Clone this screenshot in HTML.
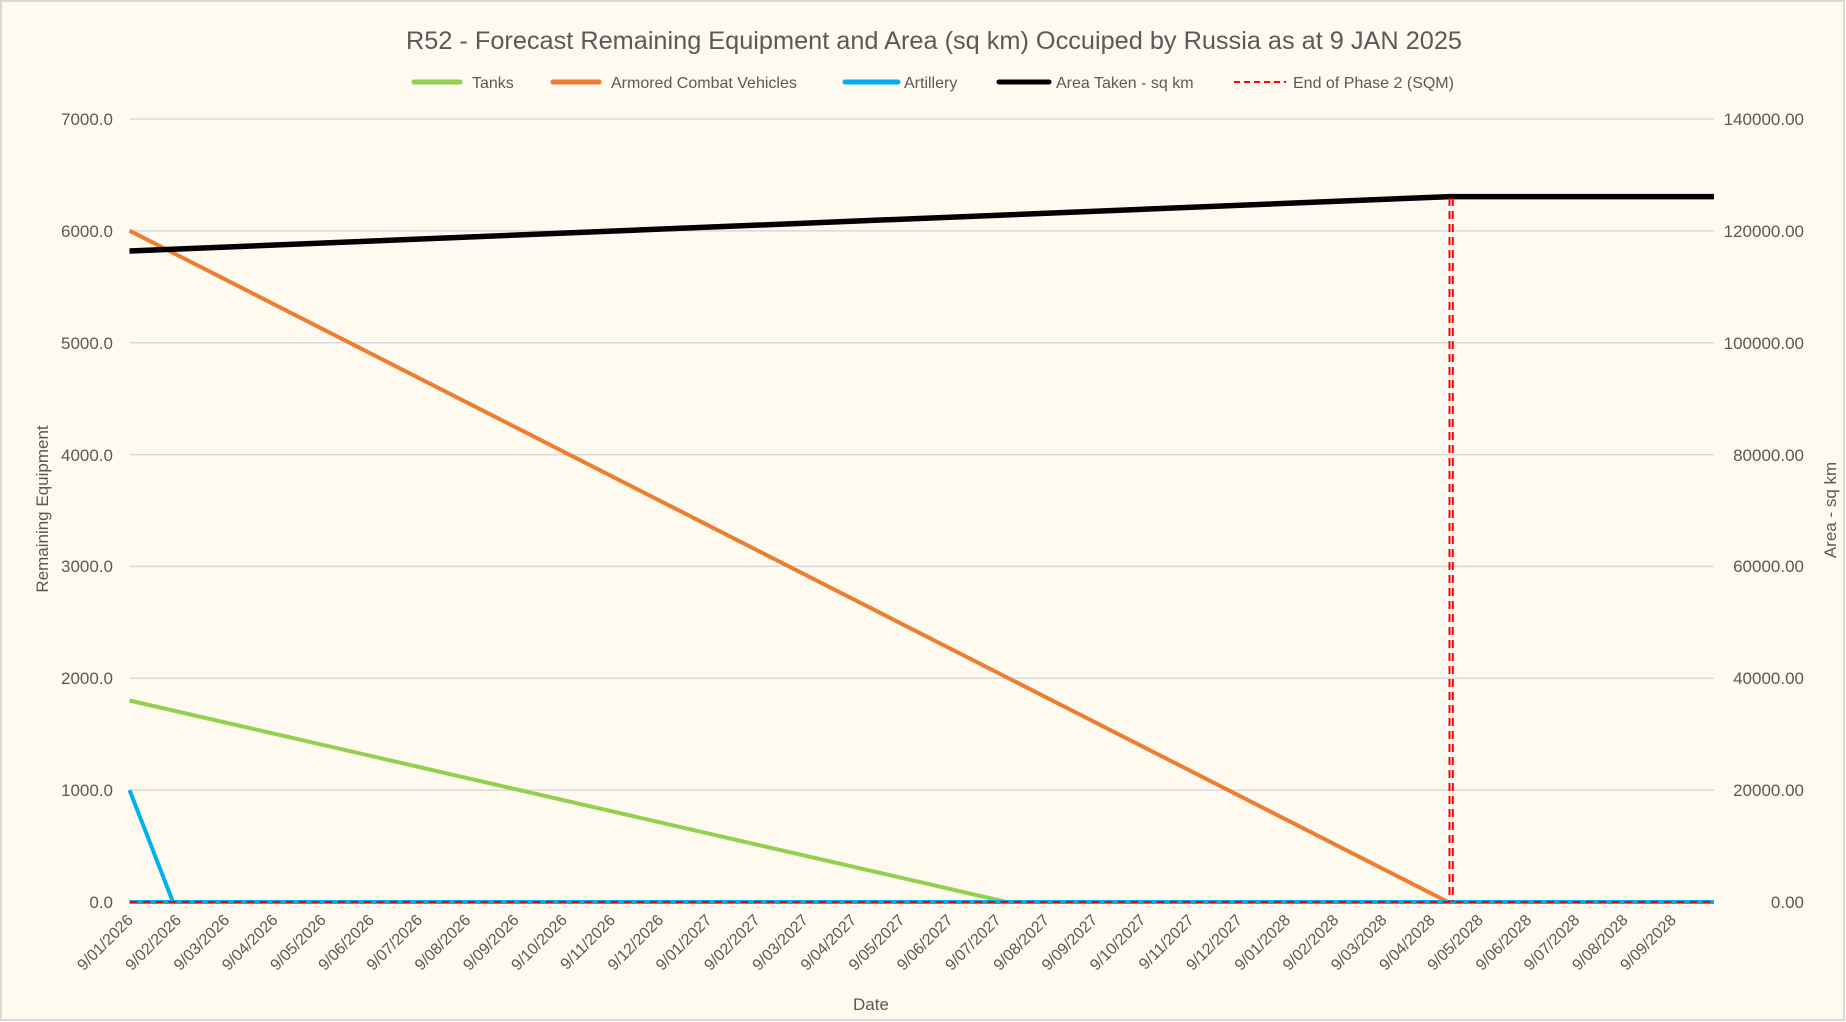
<!DOCTYPE html>
<html><head><meta charset="utf-8"><style>
html,body{margin:0;padding:0;background:#fff}
svg{display:block}
text{font-family:"Liberation Sans",sans-serif;fill:#595959}
</style></head><body>
<svg width="1846" height="1022" viewBox="0 0 1846 1022" xmlns="http://www.w3.org/2000/svg">
<rect x="1" y="1" width="1843" height="1019" fill="#FEFAF0" stroke="#D9D9D9" stroke-width="2"/>
<text x="934" y="49" font-size="25" text-anchor="middle" textLength="1056" lengthAdjust="spacingAndGlyphs">R52 - Forecast Remaining Equipment and Area (sq km) Occuiped by Russia as at 9 JAN 2025</text>
<!-- legend -->
<g stroke-width="5" stroke-linecap="round">
<line x1="414" y1="82" x2="460" y2="82" stroke="#92D050"/>
<line x1="553" y1="82" x2="599" y2="82" stroke="#ED7D31"/>
<line x1="845" y1="82" x2="898" y2="82" stroke="#00B0F0"/>
<line x1="999" y1="82" x2="1049" y2="82" stroke="#000"/>
</g>
<line x1="1234" y1="82" x2="1286" y2="82" stroke="#FF0000" stroke-width="2" stroke-dasharray="6,4"/>
<g font-size="16">
<text x="472" y="88">Tanks</text>
<text x="611" y="88">Armored Combat Vehicles</text>
<text x="904" y="88">Artillery</text>
<text x="1056" y="88">Area Taken - sq km</text>
<text x="1293" y="88">End of Phase 2 (SQM)</text>
</g>
<!-- gridlines -->
<g stroke="#D9D9D9" stroke-width="1.5">
<line x1="130" y1="119" x2="1714" y2="119"/>
<line x1="130" y1="230.9" x2="1714" y2="230.9"/>
<line x1="130" y1="342.7" x2="1714" y2="342.7"/>
<line x1="130" y1="454.6" x2="1714" y2="454.6"/>
<line x1="130" y1="566.4" x2="1714" y2="566.4"/>
<line x1="130" y1="678.3" x2="1714" y2="678.3"/>
<line x1="130" y1="790.1" x2="1714" y2="790.1"/>
<line x1="130" y1="902" x2="1714" y2="902"/>
</g>
<g font-size="17" text-anchor="end">
<text x="113" y="125">7000.0</text>
<text x="113" y="237">6000.0</text>
<text x="113" y="349">5000.0</text>
<text x="113" y="461">4000.0</text>
<text x="113" y="572">3000.0</text>
<text x="113" y="684">2000.0</text>
<text x="113" y="796">1000.0</text>
<text x="113" y="908">0.0</text>
</g>
<g font-size="17" text-anchor="end">
<text x="1804" y="125">140000.00</text>
<text x="1804" y="237">120000.00</text>
<text x="1804" y="349">100000.00</text>
<text x="1804" y="461">80000.00</text>
<text x="1804" y="572">60000.00</text>
<text x="1804" y="684">40000.00</text>
<text x="1804" y="796">20000.00</text>
<text x="1804" y="908">0.00</text>
</g>
<text transform="translate(48,509) rotate(-90)" font-size="17" text-anchor="middle">Remaining Equipment</text>
<text transform="translate(1836,510) rotate(-90)" font-size="17" text-anchor="middle">Area - sq km</text>
<text x="871" y="1010" font-size="17" text-anchor="middle">Date</text>
<!-- series -->
<g fill="none" stroke-width="4" stroke-linejoin="round">
<polyline points="129.5,790 173,902 1714,902" stroke="#00B0F0"/>
<polyline points="129.5,700.5 1006.6,902 1714,902" stroke="#92D050"/>
<polyline points="129.5,230.7 1448,902 1714,902" stroke="#ED7D31"/>
<polyline points="129.5,902 1714,902" stroke="#00B0F0"/>
<polyline points="129.5,251 1450.5,196.6 1714,196.6" stroke="#000" stroke-width="5.5"/>
</g>
<g stroke="#FF0000" stroke-width="2" stroke-dasharray="8,5" fill="none">
<line x1="129.5" y1="902" x2="1714" y2="902"/>
<line x1="1449.5" y1="198" x2="1449.5" y2="902"/>
<line x1="1452.8" y1="198" x2="1452.8" y2="902"/>
</g>
<!-- x tick labels -->
<g font-size="16" text-anchor="end" id="xl">
<text transform="translate(134.0,921) rotate(-45)">9/01/2026</text>
<text transform="translate(182.2,921) rotate(-45)">9/02/2026</text>
<text transform="translate(230.4,921) rotate(-45)">9/03/2026</text>
<text transform="translate(278.7,921) rotate(-45)">9/04/2026</text>
<text transform="translate(326.9,921) rotate(-45)">9/05/2026</text>
<text transform="translate(375.1,921) rotate(-45)">9/06/2026</text>
<text transform="translate(423.3,921) rotate(-45)">9/07/2026</text>
<text transform="translate(471.5,921) rotate(-45)">9/08/2026</text>
<text transform="translate(519.8,921) rotate(-45)">9/09/2026</text>
<text transform="translate(568.0,921) rotate(-45)">9/10/2026</text>
<text transform="translate(616.2,921) rotate(-45)">9/11/2026</text>
<text transform="translate(664.4,921) rotate(-45)">9/12/2026</text>
<text transform="translate(712.6,921) rotate(-45)">9/01/2027</text>
<text transform="translate(760.8,921) rotate(-45)">9/02/2027</text>
<text transform="translate(809.1,921) rotate(-45)">9/03/2027</text>
<text transform="translate(857.3,921) rotate(-45)">9/04/2027</text>
<text transform="translate(905.5,921) rotate(-45)">9/05/2027</text>
<text transform="translate(953.7,921) rotate(-45)">9/06/2027</text>
<text transform="translate(1001.9,921) rotate(-45)">9/07/2027</text>
<text transform="translate(1050.2,921) rotate(-45)">9/08/2027</text>
<text transform="translate(1098.4,921) rotate(-45)">9/09/2027</text>
<text transform="translate(1146.6,921) rotate(-45)">9/10/2027</text>
<text transform="translate(1194.8,921) rotate(-45)">9/11/2027</text>
<text transform="translate(1243.0,921) rotate(-45)">9/12/2027</text>
<text transform="translate(1291.3,921) rotate(-45)">9/01/2028</text>
<text transform="translate(1339.5,921) rotate(-45)">9/02/2028</text>
<text transform="translate(1387.7,921) rotate(-45)">9/03/2028</text>
<text transform="translate(1435.9,921) rotate(-45)">9/04/2028</text>
<text transform="translate(1484.1,921) rotate(-45)">9/05/2028</text>
<text transform="translate(1532.4,921) rotate(-45)">9/06/2028</text>
<text transform="translate(1580.6,921) rotate(-45)">9/07/2028</text>
<text transform="translate(1628.8,921) rotate(-45)">9/08/2028</text>
<text transform="translate(1677.0,921) rotate(-45)">9/09/2028</text>
</g>
</svg>
</body></html>
